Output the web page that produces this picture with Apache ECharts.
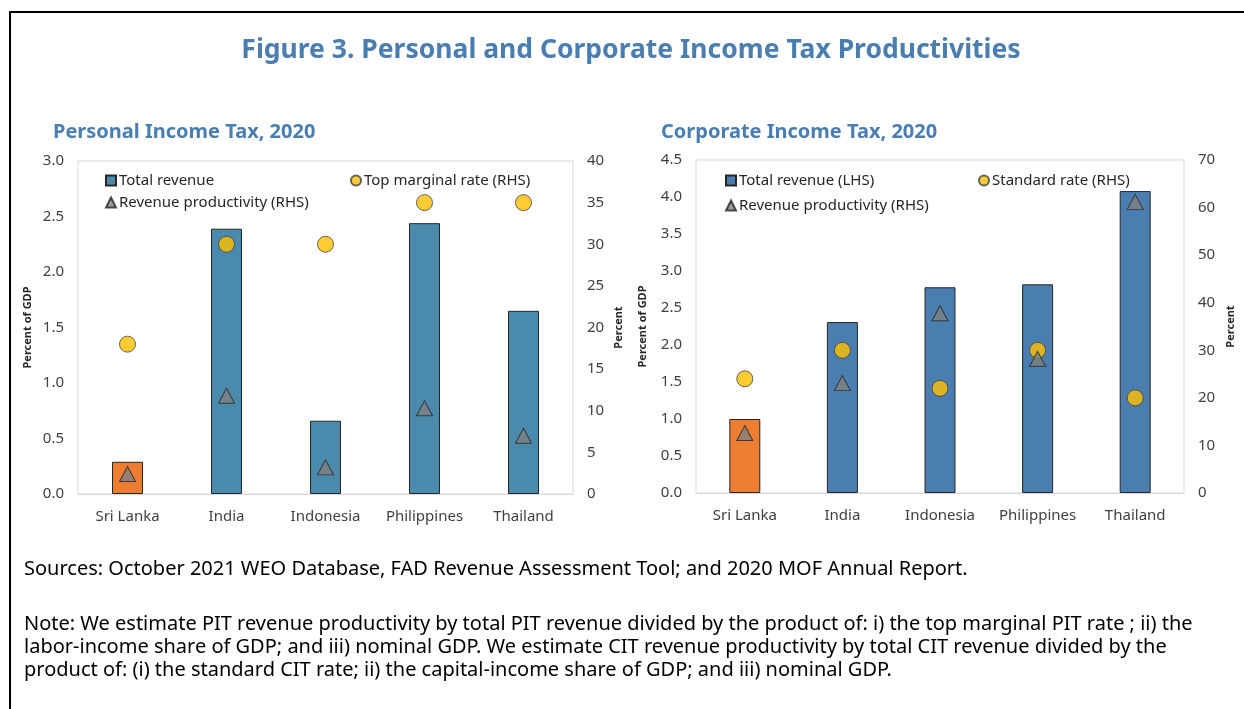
<!DOCTYPE html>
<html>
<head>
<meta charset="utf-8">
<script src="https://cdn.jsdelivr.net/npm/echarts@6/dist/echarts.min.js"></script>
<style>
  html, body { margin: 0; padding: 0; background: #fff; }
  #main { width: 1244px; height: 709px; }
</style>
</head>
<body>
<div id="main"></div>
<script>
var countries = ['Sri Lanka', 'India', 'Indonesia', 'Philippines', 'Thailand'];

// personal income tax
var pitRevenue = [0.29, 2.39, 0.66, 2.44, 1.65];
var pitTopRate = [18, 30, 30, 35, 35];
var pitProductivity = [2.4, 11.8, 3.2, 10.3, 7.0];

// corporate income tax
var citRevenue = [1.0, 2.31, 2.78, 2.82, 4.08];
var citStdRate = [24, 30, 22, 30, 20];
var citProductivity = [12.6, 23.1, 37.8, 28.2, 61.2];

var leftTicks = { pit: [0, 3, 0.5], cit: [0, 4.5, 0.5] };
var rightTicks = { pit: [0, 40, 5], cit: [0, 70, 10] };

var font = '"Noto Sans", sans-serif';
var titleBlue = '#4A7EB0';
var orange = '#ED7D31';

var chartDom = document.getElementById('main');
var myChart = echarts.init(chartDom);

function revenueData(values) {
    return values.map(function (v, i) {
        if (i === 0) {
            return { value: v, itemStyle: { color: orange } };
        }
        return v;
    });
}

function catAxis(gridIndex) {
    return {
        type: 'category',
        gridIndex: gridIndex,
        data: countries,
        axisTick: { show: false },
        axisLine: { lineStyle: { color: '#d9d9d9' } },
        axisLabel: { color: '#404040', fontSize: 15, fontFamily: font, margin: 15, interval: 0, hideOverlap: false }
    };
}

function valAxis(gridIndex, ticks, name, pos, gap, decimals) {
    return {
        type: 'value',
        gridIndex: gridIndex,
        position: pos,
        min: ticks[0],
        max: ticks[1],
        interval: ticks[2],
        name: name,
        nameLocation: 'middle',
        nameRotate: 90,
        nameGap: gap,
        nameTextStyle: { color: '#262626', fontSize: 11, fontWeight: 'bold', fontFamily: font },
        splitLine: { show: false },
        axisLine: { show: false },
        axisTick: { show: false },
        axisLabel: {
            color: '#404040', fontSize: 15, fontFamily: font, margin: 14,
            formatter: function (v) { return decimals ? v.toFixed(1) : String(v); }
        }
    };
}

function legendAt(name, icon, left, top) {
    return {
        data: [name],
        left: left,
        top: top,
        icon: icon,
        itemWidth: 10,
        itemHeight: 10,
        itemGap: 4,
        selectedMode: false,
        textStyle: { color: '#262626', fontSize: 15, fontFamily: font, padding: [0, 0, 0, -2] }
    };
}

var circleStyle = { color: '#FFC000', borderColor: '#404040', borderWidth: 1 };
var triStyle = { color: '#7F7F7F', borderColor: '#262626', borderWidth: 1 };

var option = {
    animation: false,
    title: [
        {
            text: 'Figure 3. Personal and Corporate Income Tax Productivities',
            left: 631, top: 36, textAlign: 'center', padding: 0,
            textStyle: { color: titleBlue, fontSize: 26.5, fontWeight: 'bold', fontFamily: font, lineHeight: 28 }
        },
        {
            text: 'Personal Income Tax, 2020',
            left: 53, top: 121, padding: 0,
            textStyle: { color: titleBlue, fontSize: 20, fontWeight: 'bold', fontFamily: font, lineHeight: 22 }
        },
        {
            text: 'Corporate Income Tax, 2020',
            left: 661, top: 121, padding: 0,
            textStyle: { color: titleBlue, fontSize: 20, fontWeight: 'bold', fontFamily: font, lineHeight: 22 }
        },
        {
            text: 'Sources: October 2021 WEO Database, FAD Revenue Assessment Tool; and 2020 MOF Annual Report.',
            left: 24, top: 558, padding: 0,
            textStyle: { color: '#000', fontSize: 20, fontWeight: 'normal', fontFamily: font, lineHeight: 23 }
        },
        {
            text: 'Note: We estimate PIT revenue productivity by total PIT revenue divided by the product of: i) the top marginal PIT rate ; ii) the\n' +
                'labor-income share of GDP; and iii) nominal GDP. We estimate CIT revenue productivity by total CIT revenue divided by the\n' +
                'product of: (i) the standard CIT rate; ii) the capital-income share of GDP; and iii) nominal GDP.',
            left: 24, top: 613, padding: 0,
            textStyle: { color: '#000', fontSize: 20, fontWeight: 'normal', fontFamily: font, lineHeight: 23 }
        }
    ],
    graphic: [
        {
            type: 'rect',
            shape: { x: 10, y: 12, width: 1300, height: 800 },
            style: { fill: 'none', stroke: '#000', lineWidth: 2 },
            silent: true
        }
    ],
    legend: [
        legendAt('Total revenue', 'rect', 100, 168),
        legendAt('Top marginal rate (RHS)', 'circle', 345, 168),
        legendAt('Revenue productivity (RHS)', 'triangle', 100, 190),
        legendAt('Total revenue (LHS)', 'rect', 720, 168),
        legendAt('Standard rate (RHS)', 'circle', 973, 168),
        legendAt('Revenue productivity (RHS)', 'triangle', 720, 193)
    ],
    grid: [
        { left: 78, width: 495, top: 161, height: 333, show: true, borderColor: '#d9d9d9', borderWidth: 1 },
        { left: 696, width: 488, top: 160, height: 333, show: true, borderColor: '#d9d9d9', borderWidth: 1 }
    ],
    xAxis: [catAxis(0), catAxis(1)],
    yAxis: [
        valAxis(0, leftTicks.pit, 'Percent of GDP', 'left', 45, true),
        valAxis(0, rightTicks.pit, 'Percent', 'right', 40, false),
        valAxis(1, leftTicks.cit, 'Percent of GDP', 'left', 48, true),
        valAxis(1, rightTicks.cit, 'Percent', 'right', 41, false)
    ],
    series: [
        {
            name: 'Total revenue', type: 'bar', xAxisIndex: 0, yAxisIndex: 0,
            barWidth: 31,
            itemStyle: { color: '#4A8BAD', borderColor: '#262626', borderWidth: 1 },
            data: revenueData(pitRevenue)
        },
        {
            name: 'Top marginal rate (RHS)', type: 'scatter', xAxisIndex: 0, yAxisIndex: 1,
            symbol: 'circle', symbolSize: 16, itemStyle: circleStyle, z: 5,
            data: pitTopRate
        },
        {
            name: 'Revenue productivity (RHS)', type: 'scatter', xAxisIndex: 0, yAxisIndex: 1,
            symbol: 'triangle', symbolSize: [16, 15], itemStyle: triStyle, z: 6,
            data: pitProductivity
        },
        {
            name: 'Total revenue (LHS)', type: 'bar', xAxisIndex: 1, yAxisIndex: 2,
            barWidth: 31,
            itemStyle: { color: '#4A7EB0', borderColor: '#262626', borderWidth: 1 },
            data: revenueData(citRevenue)
        },
        {
            name: 'Standard rate (RHS)', type: 'scatter', xAxisIndex: 1, yAxisIndex: 3,
            symbol: 'circle', symbolSize: 16, itemStyle: circleStyle, z: 5,
            data: citStdRate
        },
        {
            name: 'Revenue productivity (RHS)', type: 'scatter', xAxisIndex: 1, yAxisIndex: 3,
            symbol: 'triangle', symbolSize: [16, 15], itemStyle: triStyle, z: 6,
            data: citProductivity
        }
    ]
};

myChart.setOption(option);
</script>
</body>
</html>
